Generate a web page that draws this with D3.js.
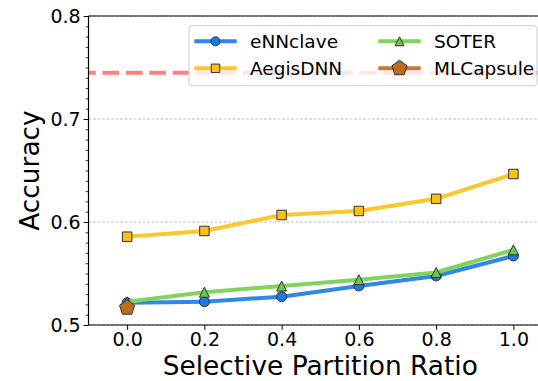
<!DOCTYPE html>
<html>
<head>
<meta charset="utf-8">
<script src="https://cdn.jsdelivr.net/npm/d3@7"></script>
<style>
  body { margin: 0; background: #fff; }
  svg { display: block; font-family: "DejaVu Sans", sans-serif; }
</style>
</head>
<body>
<div id="chart"></div>
<script>
// data
const ratios = [0.0, 0.2, 0.4, 0.6, 0.8, 1.0];
const ennclave = [0.5216, 0.5226, 0.5275, 0.5379, 0.5476, 0.567];
const aegisdnn = [0.5857, 0.5913, 0.6068, 0.6107, 0.6225, 0.6466];
const soter = [0.5225, 0.5318, 0.5378, 0.5440, 0.5510, 0.5730];
const mlcapsule = [0.5168];   // single point at ratio 0.0
const baseline = 0.745;       // red dashed reference line
const xTicks = [0.0, 0.2, 0.4, 0.6, 0.8, 1.0];
const yTicks = [0.5, 0.6, 0.7, 0.8];

const series = [
  { name: 'eNNclave', values: ennclave, line: '#2f86eb', fill: '#1f78e6', shape: 'circle' },
  { name: 'AegisDNN', values: aegisdnn, line: '#fcc72c', fill: '#fbbf1a', shape: 'square' },
  { name: 'SOTER', values: soter, line: '#80d45e', fill: '#6cc64c', shape: 'triangle' },
  { name: 'MLCapsule', values: mlcapsule, line: '#c47a30', fill: '#bb6c1e', shape: 'pentagon' }
];

const width = 538, height = 381;
const margin = { top: 16, left: 88.5, bottom: 325, right: 552 };

const svg = d3.select('#chart').append('svg')
  .attr('width', width)
  .attr('height', height);

const x = d3.scaleLinear().domain([-0.1, 1.1]).range([margin.left, margin.right]);
const y = d3.scaleLinear().domain([0.5, 0.8]).range([margin.bottom, margin.top]);

// marker shapes, size in px
function markerPath(shape, s) {
  if (shape === 'circle') return d3.symbol(d3.symbolCircle, Math.PI * s * s / 4)();
  if (shape === 'square') return d3.symbol(d3.symbolSquare, s * s)();
  if (shape === 'triangle') {
    const r = s / 2;
    return `M0,${-r}L${r},${r}L${-r},${r}Z`;
  }
  // pentagon pointing up
  const r = s / 2;
  const pts = d3.range(5).map(i => {
    const a = -Math.PI / 2 + i * 2 * Math.PI / 5;
    return [r * Math.cos(a), r * Math.sin(a)];
  });
  return 'M' + pts.map(p => p.join(',')).join('L') + 'Z';
}
const markerSize = { circle: 10, square: 9.5, triangle: 10, pentagon: 16 };

// grid
svg.append('g')
  .selectAll('line')
  .data(yTicks)
  .join('line')
  .attr('x1', margin.left).attr('x2', margin.right)
  .attr('y1', d => y(d)).attr('y2', d => y(d))
  .attr('stroke', '#b0b0b0')
  .attr('stroke-width', 0.8)
  .attr('stroke-dasharray', '3,1.5');

// red reference line
svg.append('line')
  .attr('x1', margin.left).attr('x2', margin.right)
  .attr('y1', y(baseline)).attr('y2', y(baseline))
  .attr('stroke', 'rgba(255,0,0,0.5)')
  .attr('stroke-width', 4)
  .attr('stroke-dasharray', '16.7,6.7')
  .attr('stroke-dashoffset', 9.4);

// lines + markers
const lineGen = d3.line().x(d => x(d[0])).y(d => y(d[1]));
series.forEach(s => {
  const pts = s.values.map((v, i) => [ratios[i], v]);
  if (pts.length > 1) {
    svg.append('path')
      .datum(pts)
      .attr('d', lineGen)
      .attr('fill', 'none')
      .attr('stroke', s.line)
      .attr('stroke-width', 4)
      .attr('stroke-linejoin', 'round')
      .attr('stroke-linecap', 'square');
  }
  svg.append('g')
    .selectAll('path')
    .data(pts)
    .join('path')
    .attr('transform', d => `translate(${x(d[0])},${y(d[1])})`)
    .attr('d', markerPath(s.shape, markerSize[s.shape]))
    .attr('fill', s.fill)
    .attr('stroke', '#333')
    .attr('stroke-width', 1);
});

// axes
const xAxis = svg.append('g')
  .attr('transform', `translate(0,${margin.bottom})`)
  .call(d3.axisBottom(x).tickValues(xTicks).tickFormat(d3.format('.1f')).tickSize(4.9).tickPadding(3));
xAxis.select('.domain').remove();
xAxis.selectAll('text').attr('font-size', 19).attr('fill', '#000').attr('font-family', 'DejaVu Sans');
xAxis.selectAll('line').attr('stroke', '#000').attr('stroke-width', 1);

const yMinor = svg.append('g')
  .attr('transform', `translate(${margin.left},0)`)
  .call(d3.axisLeft(y).ticks(30).tickSize(2.8).tickFormat(''));
yMinor.select('.domain').remove();
yMinor.selectAll('line').attr('stroke', '#000').attr('stroke-width', 0.8);

const yAxis = svg.append('g')
  .attr('transform', `translate(${margin.left},0)`)
  .call(d3.axisLeft(y).tickValues(yTicks).tickFormat(d3.format('.1f')).tickSize(4.9).tickPadding(3));
yAxis.select('.domain').remove();
yAxis.selectAll('text').attr('font-size', 19).attr('fill', '#000').attr('font-family', 'DejaVu Sans');
yAxis.selectAll('line').attr('stroke', '#000').attr('stroke-width', 1);

// spines
svg.append('line').attr('x1', margin.left).attr('x2', margin.left)
  .attr('y1', margin.top).attr('y2', margin.bottom).attr('stroke', '#000').attr('stroke-width', 1.2);
svg.append('line').attr('x1', margin.left).attr('x2', width)
  .attr('y1', margin.bottom).attr('y2', margin.bottom).attr('stroke', '#000').attr('stroke-width', 1.2);
svg.append('line').attr('x1', margin.left).attr('x2', width)
  .attr('y1', margin.top).attr('y2', margin.top).attr('stroke', '#000').attr('stroke-width', 1.2);

// axis labels
svg.append('text')
  .attr('x', (margin.left + margin.right) / 2)
  .attr('y', 375)
  .attr('text-anchor', 'middle')
  .attr('font-size', 26.4)
  .text('Selective Partition Ratio');

svg.append('text')
  .attr('transform', `translate(39,${(margin.top + margin.bottom) / 2}) rotate(-90)`)
  .attr('text-anchor', 'middle')
  .attr('font-size', 26.4)
  .text('Accuracy');

// legend (2 columns, column-major order)
const legend = svg.append('g');
legend.append('rect')
  .attr('x', 189).attr('y', 25.7)
  .attr('width', 348).attr('height', 60)
  .attr('rx', 3)
  .attr('fill', 'rgba(255,255,255,0.8)')
  .attr('stroke', '#cccccc')
  .attr('stroke-width', 1);

const colX = [194.3, 378.3];
const rowY = [41.3, 68.3];
series.forEach((s, i) => {
  const cx = colX[Math.floor(i / 2)];
  const cy = rowY[i % 2];
  const g = legend.append('g');
  g.append('line')
    .attr('x1', cx).attr('x2', cx + 42.4)
    .attr('y1', cy).attr('y2', cy)
    .attr('stroke', s.line).attr('stroke-width', 4);
  g.append('path')
    .attr('transform', `translate(${cx + 21.2},${cy})`)
    .attr('d', markerPath(s.shape, s.shape === 'pentagon' ? 16 : markerSize[s.shape] - 1))
    .attr('fill', s.fill)
    .attr('stroke', '#333')
    .attr('stroke-width', 1);
  g.append('text')
    .attr('x', cx + 55.7)
    .attr('y', cy + 6.8)
    .attr('font-size', 18.5)
    .text(s.name);
});
</script>
</body>
</html>
